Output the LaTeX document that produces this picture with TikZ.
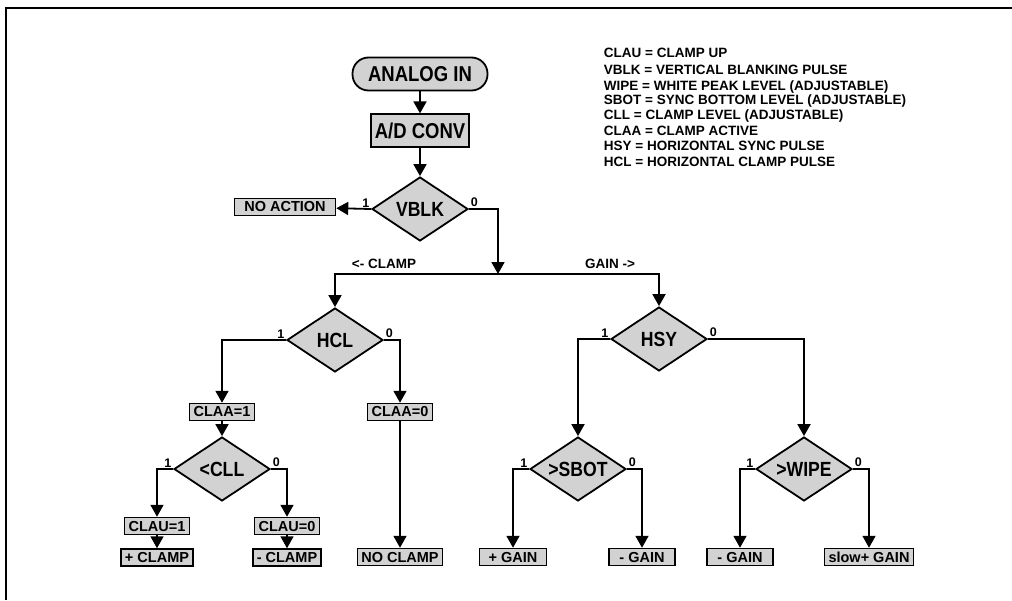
\documentclass[tikz,border=0pt]{standalone}
\usepackage{fontspec}
\setmainfont{Liberation Sans}
\newfontfamily\condfont[FakeStretch=0.86]{Liberation Sans}
\usepackage{tikz}
\usetikzlibrary{arrows.meta,positioning,shapes.geometric}
\definecolor{Screen}{HTML}{D2D2D2}

\begin{document}
\begin{tikzpicture}[
  x=1pt,y=-1pt,
  line width=1.8pt,
  node distance=12pt,
  bigbox/.style={draw,fill=Screen,align=center,inner xsep=4pt,inner ysep=0pt,minimum height=33pt,font=\condfont\bfseries\fontsize{21.5}{21.5}\selectfont},
  decision/.style={draw,diamond,fill=Screen,aspect=1.5,inner sep=0pt,minimum width=96pt,minimum height=64pt,font=\condfont\bfseries\fontsize{20.5}{20.5}\selectfont},
  sbox/.style={draw,fill=Screen,line width=1.5pt,inner xsep=4pt,inner ysep=0pt,minimum height=17pt,font=\bfseries\fontsize{14.5}{14.5}\selectfont},
  bit/.style={inner sep=1pt,font=\bfseries\fontsize{12.5}{12.5}\selectfont},
  note/.style={inner sep=0pt,anchor=west,font=\bfseries\fontsize{13.5}{13.5}\selectfont},
  arr/.style={-{Triangle[length=12pt,width=13pt]}}
]
\useasboundingbox (0,0) rectangle (1012,600);
\draw[line width=2pt] (6,600) -- (6,8) -- (1012,8);

% legend
\node[note] (leg1) at (603,53) {CLAU = CLAMP UP};
\node[note] (leg2) at (603,70) {VBLK = VERTICAL BLANKING PULSE};
\node[note] (leg3) at (603,87) {WIPE = WHITE PEAK LEVEL (ADJUSTABLE)};
\node[note] (leg4) at (603,101) {SBOT = SYNC BOTTOM LEVEL (ADJUSTABLE)};
\node[note] (leg5) at (603,116) {CLL = CLAMP LEVEL (ADJUSTABLE)};
\node[note] (leg6) at (603,131) {CLAA = CLAMP ACTIVE};
\node[note] (leg7) at (603,146) {HSY = HORIZONTAL SYNC PULSE};
\node[note] (leg8) at (603,162) {HCL = HORIZONTAL CLAMP PULSE};

% input chain
\node[bigbox,rounded corners=16pt,minimum width=135pt] (analog) at (420,74) {ANALOG IN};
\node[bigbox,minimum width=98pt,below=22pt of analog] (adconv) {A/D CONV};
\node[decision] (vblk) at (420,209) {VBLK};
\node[sbox,minimum width=101pt] (noaction) at (285,207) {NO ACTION};
\coordinate (split) at (498,274);
\node[note,anchor=center] (clampdir) at (384,264) {<- CLAMP};
\node[note,anchor=center] (gaindir) at (610,264) {GAIN ->};

% clamp side
\node[decision] (hcl) at (335,340) {HCL};
\node[sbox,minimum width=65pt] (claa1) at (222,412) {CLAA=1};
\node[sbox,minimum width=63pt] (claa0) at (400,412) {CLAA=0};
\node[decision] (cll) at (222,469) {<CLL};
\node[sbox,minimum width=59pt] (clau1) at (157,526) {CLAU=1};
\node[sbox,minimum width=63pt] (clau0) at (287,526) {CLAU=0};
\node[sbox,minimum width=65pt,below=13pt of clau1] (pclamp) {+ CLAMP};
\node[sbox,minimum width=65pt,below=13pt of clau0] (mclamp) {- CLAMP};
\node[sbox,minimum width=85pt] (noclamp) at (400,557) {NO CLAMP};

% gain side
\node[decision] (hsy) at (659,339) {HSY};
\node[decision] (sbot) at (578,469) {>SBOT};
\node[decision] (wipe) at (804,469) {>WIPE};
\node[sbox,minimum width=67pt] (pgain) at (513,557) {+ GAIN};
\node[sbox,minimum width=66pt] (mgaina) at (642,557) {- GAIN};
\node[sbox,minimum width=66pt] (mgainb) at (740,557) {- GAIN};
\node[sbox,minimum width=82pt] (slowgain) at (869,557) {slow+ GAIN};

\draw[arr] (analog) -- (adconv);
\draw[arr] (adconv) -- (vblk);
\draw[arr] (vblk.west) node[bit,above left]{1} -- (noaction);
\draw[arr] (vblk.east) node[bit,above right]{0} -| (split);
\draw[arr] (split) -| (hcl.north);
\draw[arr] (split) -| (hsy.north);

\draw[arr] (hcl.west) node[bit,above left]{1} -| (claa1.north);
\draw[arr] (hcl.east) node[bit,above right]{0} -| (claa0.north);
\draw[arr] (claa1) -- (cll);
\draw[arr] (claa0) -- (noclamp);
\draw[arr] (cll.west) node[bit,above left]{1} -| (clau1.north);
\draw[arr] (cll.east) node[bit,above right]{0} -| (clau0.north);
\draw[arr] (clau1) -- (pclamp);
\draw[arr] (clau0) -- (mclamp);

\draw[arr] (hsy.west) node[bit,above left]{1} -| (sbot.north);
\draw[arr] (hsy.east) node[bit,above right]{0} -| (wipe.north);
\draw[arr] (sbot.west) node[bit,above left]{1} -| (pgain.north);
\draw[arr] (sbot.east) node[bit,above right]{0} -| (mgaina.north);
\draw[arr] (wipe.west) node[bit,above left]{1} -| (mgainb.north);
\draw[arr] (wipe.east) node[bit,above right]{0} -| (slowgain.north);
\end{tikzpicture}
\end{document}
